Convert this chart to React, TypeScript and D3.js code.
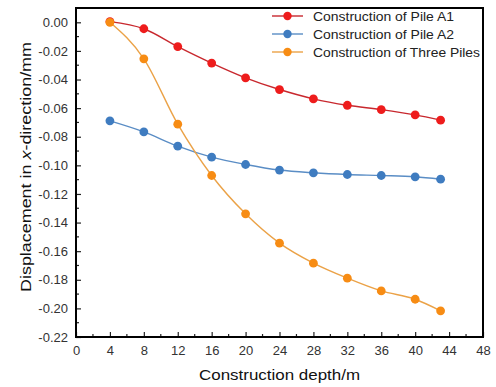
import React, { useRef, useEffect } from "react";
import * as d3 from "d3";

// construction depth (m)
const depths = [4, 8, 12, 16, 20, 24, 28, 32, 36, 40, 43];
// displacement in x-direction (mm)
const pileA1 = [0.0005, -0.0045, -0.017, -0.0285, -0.0388, -0.047, -0.0535, -0.058, -0.061, -0.0647, -0.0684];
const pileA2 = [-0.0689, -0.0766, -0.0866, -0.0943, -0.0994, -0.1033, -0.1052, -0.1064, -0.1071, -0.108, -0.1097];
const threePiles = [0.0, -0.0255, -0.0712, -0.1071, -0.1339, -0.1544, -0.1684, -0.1789, -0.1878, -0.1936, -0.2017];
const seriesNames = ["Construction of Pile A1", "Construction of Pile A2", "Construction of Three Piles"];
const xTicks = [0, 4, 8, 12, 16, 20, 24, 28, 32, 36, 40, 44, 48];
const yTicks = [0, -0.02, -0.04, -0.06, -0.08, -0.1, -0.12, -0.14, -0.16, -0.18, -0.2, -0.22];

const W = 496,
  H = 387;
const margin = { top: 8, right: 13, bottom: 50, left: 76 };

const App = () => {
  const gRef = useRef(null);

  useEffect(() => {
    const svg = d3.select(gRef.current);
    svg.selectAll("*").remove();

    const left = margin.left,
      right = W - margin.right,
      top = margin.top,
      bottom = H - margin.bottom;

    const x = d3.scaleLinear().domain([0, 48]).range([left, right]);
    const y = d3.scaleLinear().domain([-0.22, 0.01]).range([bottom, top]);

    const font = "Arial, 'Liberation Sans', sans-serif";

    // bottom axis, ticks pointing in
    const gx = svg
      .append("g")
      .attr("transform", `translate(0, ${bottom})`)
      .call(d3.axisBottom(x).tickValues(xTicks).tickSize(-5).tickPadding(9).tickFormat(d3.format("d")));
    gx.select(".domain").remove();
    gx.selectAll("line").attr("stroke", "#222").attr("stroke-width", 1.2);
    gx.selectAll("text").attr("font-family", font).attr("font-size", 13).attr("fill", "#333");
    // minor x ticks
    svg
      .append("g")
      .selectAll("line")
      .data(d3.range(2, 48, 4))
      .join("line")
      .attr("x1", (d) => x(d))
      .attr("x2", (d) => x(d))
      .attr("y1", bottom)
      .attr("y2", bottom - 3)
      .attr("stroke", "#222")
      .attr("stroke-width", 1.2);

    // left axis
    const gy = svg
      .append("g")
      .attr("transform", `translate(${left}, 0)`)
      .call(d3.axisLeft(y).tickValues(yTicks).tickSize(-5).tickPadding(8));
    gy.select(".domain").remove();
    gy.selectAll("line").attr("stroke", "#222").attr("stroke-width", 1.2);
    gy.selectAll("text")
      .attr("font-family", font)
      .attr("font-size", 13)
      .attr("fill", "#333")
      .text((d) => d3.format(".2f")(d).replace("−", "-"));
    svg
      .append("g")
      .selectAll("line")
      .data(d3.range(-0.21, 0.005, 0.02))
      .join("line")
      .attr("x1", left)
      .attr("x2", left + 3)
      .attr("y1", (d) => y(d))
      .attr("y2", (d) => y(d))
      .attr("stroke", "#222")
      .attr("stroke-width", 1.2);

    // axis titles
    svg
      .append("text")
      .attr("x", 199)
      .attr("y", 380)
      .attr("font-family", font)
      .attr("font-size", 15)
      .attr("textLength", 161)
      .attr("lengthAdjust", "spacingAndGlyphs")
      .attr("fill", "#111")
      .text("Construction depth/m");

    const yl = svg
      .append("text")
      .attr("transform", "translate(31, 292) rotate(-90)")
      .attr("font-family", font)
      .attr("font-size", 15)
      .attr("fill", "#111");
    yl.append("tspan").text("Displacement in ");
    yl.append("tspan").attr("font-style", "italic").text("x");
    yl.append("tspan").text("-direction/mm");
    yl.attr("textLength", 250).attr("lengthAdjust", "spacingAndGlyphs");

    const series = [
      { name: seriesNames[0], values: pileA1, line: "#c8282e", dot: "#ee1c1c" },
      { name: seriesNames[1], values: pileA2, line: "#5a8dc5", dot: "#3f7cc0" },
      { name: seriesNames[2], values: threePiles, line: "#eba247", dot: "#f78c14" },
    ];

    const line = d3
      .line()
      .x((d) => x(d[0]))
      .y((d) => y(d[1]))
      .curve(d3.curveMonotoneX);

    series.forEach((s) => {
      const pts = depths.map((d, i) => [d, s.values[i]]);
      svg
        .append("path")
        .datum(pts)
        .attr("d", line)
        .attr("fill", "none")
        .attr("stroke", s.line)
        .attr("stroke-width", 1.4);
      svg
        .append("g")
        .selectAll("circle")
        .data(pts)
        .join("circle")
        .attr("cx", (d) => x(d[0]))
        .attr("cy", (d) => y(d[1]))
        .attr("r", 4.4)
        .attr("fill", s.dot);
    });

    // legend
    const legendWidths = [141, 141, 167];
    const legend = svg.append("g").attr("transform", "translate(272, 16)");
    series.forEach((s, i) => {
      const g = legend.append("g").attr("transform", `translate(0, ${i * 18})`);
      g.append("line").attr("x1", 0).attr("x2", 31).attr("stroke", s.line).attr("stroke-width", 1.4);
      g.append("circle").attr("cx", 15.5).attr("r", 4.2).attr("fill", s.dot);
      g.append("text")
        .attr("x", 41)
        .attr("dy", "0.35em")
        .attr("font-family", font)
        .attr("font-size", 13)
        .attr("textLength", legendWidths[i])
        .attr("lengthAdjust", "spacingAndGlyphs")
        .attr("fill", "#222")
        .text(s.name);
    });

    // plot frame
    svg
      .append("rect")
      .attr("x", left)
      .attr("y", top)
      .attr("width", right - left)
      .attr("height", bottom - top)
      .attr("fill", "none")
      .attr("stroke", "#000")
      .attr("stroke-width", 2);
  }, []);

  return (
    <div style={{ position: "absolute", left: 0, top: 0, width: W, height: H, background: "#fff" }}>
      <svg width={W} height={H} style={{ display: "block" }}>
        <g ref={gRef}></g>
      </svg>
    </div>
  );
};

export default App;
